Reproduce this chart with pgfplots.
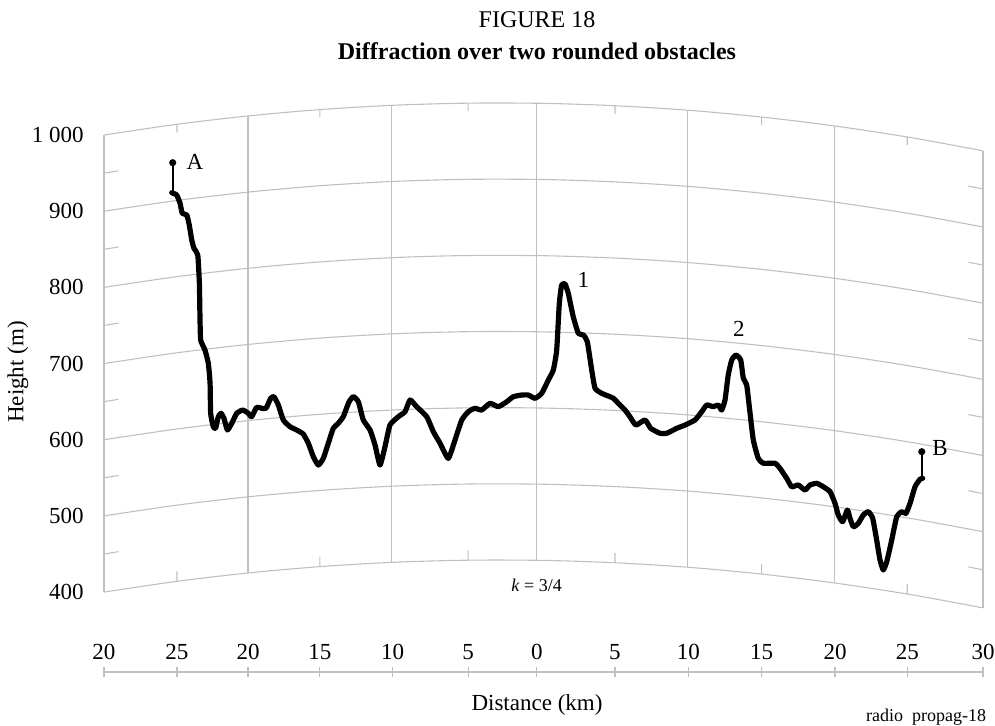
\documentclass[border=0pt]{standalone}
\usepackage{fontspec}
\setmainfont{Liberation Serif}
\usepackage{pgfplots}
\usepackage{pgfplotstable}
\pgfplotsset{compat=1.18}
\definecolor{gridc}{RGB}{192,192,192}

% curved height lines (k = 3/4), straight-axis coordinates
\pgfplotstableread{
u   g4    g5    g6    g7    g8    g9    g10
-30 357.9 457.9 557.9 657.9 757.9 857.9 957.9
-25 372.1 472.1 572.1 672.1 772.1 872.1 972.1
-20 383.3 483.3 583.3 683.3 783.3 883.3 983.3
-15 391.7 491.7 591.7 691.7 791.7 891.7 991.7
-10 397.2 497.2 597.2 697.2 797.2 897.2 997.2
-5  399.8 499.8 599.8 699.8 799.8 899.8 999.8
0   399.5 499.5 599.5 699.5 799.5 899.5 999.5
5   396.3 496.3 596.3 696.3 796.3 896.3 996.3
10  390.3 490.3 590.3 690.3 790.3 890.3 990.3
15  381.3 481.3 581.3 681.3 781.3 881.3 981.3
20  369.5 469.5 569.5 669.5 769.5 869.5 969.5
25  354.8 454.8 554.8 654.8 754.8 854.8 954.8
30  337.2 437.2 537.2 637.2 737.2 837.2 937.2
}\gridtab

% terrain profile
\pgfplotstableread{
u h
-25.38 882.2
-25.04 879.2
-24.81 868.3
-24.66 855.2
-24.35 853.0
-24.18 839.8
-24.01 820.1
-23.86 809.2
-23.60 800.4
-23.49 763.3
-23.45 719.4
-23.40 688.8
-23.11 675.7
-22.88 658.3
-22.76 632.0
-22.72 592.6
-22.54 575.0
-22.38 572.9
-22.20 588.1
-22.01 592.6
-21.81 586.0
-21.58 570.7
-21.28 579.5
-20.94 592.6
-20.53 596.9
-20.15 592.6
-19.92 588.1
-19.58 600.5
-19.24 599.2
-18.94 599.2
-18.62 612.3
-18.40 614.4
-18.10 603.5
-17.76 583.8
-17.30 575.0
-16.85 570.7
-16.40 565.4
-16.05 553.2
-15.71 535.6
-15.37 524.7
-15.03 533.5
-14.69 553.2
-14.35 572.9
-14.01 579.5
-13.67 588.1
-13.28 607.4
-12.98 614.4
-12.64 607.8
-12.30 583.8
-11.84 570.7
-11.50 551.0
-11.16 524.7
-10.82 548.8
-10.48 577.2
-9.91 588.1
-9.45 594.7
-9.11 610.1
-8.66 601.3
-7.97 588.1
-7.52 568.5
-7.06 553.2
-6.50 533.5
-6.04 557.6
-5.58 583.8
-5.13 594.7
-4.68 599.2
-4.22 596.9
-3.65 605.7
-3.09 601.3
-2.51 607.8
-2.06 614.4
-1.49 616.6
-1.04 616.6
-0.58 612.3
-0.12 618.9
0.33 636.3
0.67 649.5
0.90 675.7
1.08 737.0
1.24 761.1
1.47 762.4
1.69 750.2
2.03 719.4
2.38 697.6
2.72 695.4
2.99 686.6
3.29 649.5
3.52 625.4
3.97 618.9
4.54 614.4
4.77 612.3
5.11 605.7
5.56 596.9
5.90 588.1
6.31 577.2
6.93 583.8
7.32 572.9
7.95 566.4
8.41 566.4
9.09 572.9
9.66 577.2
10.34 583.8
10.80 594.7
11.14 603.5
11.59 601.3
11.93 603.5
12.16 596.9
12.39 610.1
12.61 642.9
12.85 662.6
13.14 669.1
13.46 662.6
13.64 638.6
13.87 629.8
14.10 592.6
14.32 557.6
14.66 533.5
15.00 527.0
15.80 527.0
16.14 520.4
16.60 507.3
16.94 496.2
17.39 498.5
17.85 491.9
18.19 498.5
18.65 500.7
19.10 496.2
19.56 489.7
19.90 474.4
20.12 459.1
20.42 450.3
20.74 465.7
20.92 454.8
21.15 443.7
21.49 448.2
21.83 459.1
22.17 463.4
22.47 454.8
22.74 426.3
22.97 400.0
23.19 386.9
23.43 397.8
23.77 426.3
24.11 456.9
24.45 463.4
24.74 461.3
25.02 474.4
25.36 496.2
25.70 506.0
25.88 507.3
}\profile

\begin{document}
\begin{tikzpicture}
\useasboundingbox (0pt,0pt) rectangle (497.5pt,363pt);
\begin{axis}[
    at={(52pt,27pt)}, anchor=south west,
    scale only axis, width=439.5pt, height=284.5pt,
    xmin=-30, xmax=30, ymin=253, ymax=1000,
    clip=false,
    axis x line*=bottom, axis y line*=left,
    y axis line style={draw=none},
    x axis line style={gridc, line width=0.55pt},
    xtick={-30,-25.02,-20.17,-15.26,-10.3,-5.15,-0.46,4.88,9.88,14.89,19.9,24.83,30},
    xticklabels={20,25,20,15,10,5,0,5,10,15,20,25,30},
    ytick={357.9,457.9,557.9,657.9,757.9,857.9,957.9},
    yticklabels={400,500,600,700,800,900,1\ 000},
    tick align=center, major tick length=5pt,
    xtick style={gridc, line width=0.55pt},
    ytick style={draw=none},
    xticklabel style={anchor=base, inner sep=0pt, yshift=8.5pt},
    yticklabel style={anchor=east, inner sep=0pt, xshift=-7.5pt},
    ticklabel style={font=\fontsize{11.5}{13}\selectfont},
    /pgf/number format/assume math mode=true,
]
% curved height lines
\addplot[gridc, line width=0.55pt, smooth] table[x=u, y=g4] {\gridtab};
\addplot[gridc, line width=0.55pt, smooth] table[x=u, y=g5] {\gridtab};
\addplot[gridc, line width=0.55pt, smooth] table[x=u, y=g6] {\gridtab};
\addplot[gridc, line width=0.55pt, smooth] table[x=u, y=g7] {\gridtab};
\addplot[gridc, line width=0.55pt, smooth] table[x=u, y=g8] {\gridtab};
\addplot[gridc, line width=0.55pt, smooth] table[x=u, y=g9] {\gridtab};
\addplot[gridc, line width=0.55pt, smooth] table[x=u, y=g10] {\gridtab};
% edges and vertical distance lines
\addplot[gridc, line width=0.55pt, unbounded coords=jump] coordinates {
  (-30,357.9) (-30,957.9) (-30,nan)
  (-20.17,383.0) (-20.17,983.0) (-20.17,nan)
  (-10.35,396.9) (-10.35,996.9) (-10.35,nan)
  (-0.5,399.6) (-0.5,999.6) (-0.5,nan)
  (9.85,390.5) (9.85,990.5) (9.85,nan)
  (19.85,369.9) (19.85,969.9) (19.85,nan)
  (30,337.2) (30,937.2)
};
% small ticks on the frame
\addplot[gridc, line width=0.55pt, unbounded coords=jump] coordinates {
  (-30,907.9) (-29,911.0) (-29,nan) (-30,807.9) (-29,811.0) (-29,nan)
  (-30,707.9) (-29,711.0) (-29,nan) (-30,607.9) (-29,611.0) (-29,nan)
  (-30,507.9) (-29,511.0) (-29,nan) (-30,407.9) (-29,411.0) (-29,nan)
  (30,887.2) (29,890.9) (29,nan) (30,787.2) (29,790.9) (29,nan)
  (30,687.2) (29,690.9) (29,nan) (30,587.2) (29,590.9) (29,nan)
  (30,487.2) (29,490.9) (29,nan) (30,387.2) (29,390.9) (29,nan)
  (-25.02,972.0) (-25.02,961.5) (-25.02,nan) (-15.26,991.3) (-15.26,980.8) (-15.26,nan)
  (-5.15,999.7) (-5.15,989.2) (-5.15,nan) (4.88,996.4) (4.88,985.9) (4.88,nan)
  (14.89,981.5) (14.89,971.0) (14.89,nan) (24.83,955.3) (24.83,944.8) (24.83,nan)
  (-25.02,372.0) (-25.02,385.0) (-25.02,nan) (-15.26,391.3) (-15.26,404.3) (-15.26,nan)
  (-5.15,399.7) (-5.15,412.7) (-5.15,nan) (4.88,396.4) (4.88,409.4) (4.88,nan)
  (14.89,381.5) (14.89,394.5) (14.89,nan) (24.83,355.3) (24.83,368.3)
};
% terrain
\addplot[black, line width=2.6pt, line join=round, line cap=round, smooth, tension=0.3]
  table[x=u, y=h] {\profile};
% antennas
\addplot[black, line width=0.9pt, mark=*, mark size=1.3pt, mark indices={2}]
  coordinates {(-25.31,882.2) (-25.31,921.6)};
\addplot[black, line width=0.9pt, mark=*, mark size=1.3pt, mark indices={2}]
  coordinates {(25.82,507.3) (25.82,542.2)};
\node[font=\fontsize{11.5}{13}\selectfont] at (axis cs:-23.79,922.9) {A};
\node[font=\fontsize{11.5}{13}\selectfont] at (axis cs:2.72,767.6) {1};
\node[font=\fontsize{11.5}{13}\selectfont] at (axis cs:13.34,702.9) {2};
\node[font=\fontsize{11.5}{13}\selectfont] at (axis cs:27.07,546.7) {B};
\end{axis}
\node[font=\fontsize{12}{14}\selectfont] at (268.5pt,353pt) {FIGURE 18};
\node[font=\bfseries\fontsize{12}{14}\selectfont] at (268.5pt,337.5pt) {Diffraction over two rounded obstacles};
\node[rotate=90, font=\fontsize{11.5}{13}\selectfont] at (9pt,177pt) {Height (m)};
\node[font=\fontsize{11.5}{13}\selectfont] at (268.5pt,10.5pt) {Distance (km)};
\node[font=\fontsize{9}{11}\selectfont] at (268.3pt,70.5pt) {\textit{k} = 3/4};
\node[font=\fontsize{9}{11}\selectfont] at (463pt,4.5pt) {radio\ \ propag-18};
\end{tikzpicture}
\end{document}
